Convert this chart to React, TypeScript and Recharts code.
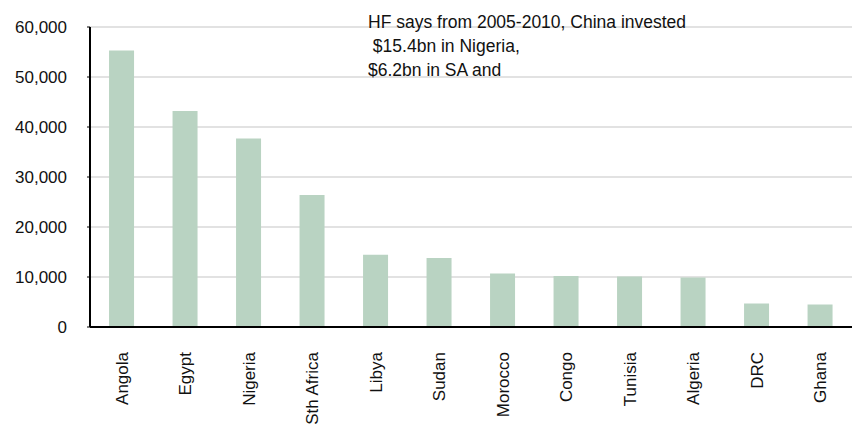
import React from "react";
import { BarChart, Bar, XAxis, YAxis, CartesianGrid } from "recharts";

const countries = ["Angola", "Egypt", "Nigeria", "Sth Africa", "Libya", "Sudan", "Morocco", "Congo", "Tunisia", "Algeria", "DRC", "Ghana"];
const investment = [55300, 43200, 37700, 26400, 14450, 13800, 10700, 10200, 10100, 9900, 4700, 4500];
const yTicks = [0, 10000, 20000, 30000, 40000, 50000, 60000];
const noteLines = ["HF says from 2005-2010, China invested", " $15.4bn in Nigeria,", "$6.2bn in SA and"];

const FONT = '"Liberation Sans", Arial, sans-serif';

const chartData = countries.map((c, i) => ({ name: c, v: investment[i] }));

function RotatedTick(props: any) {
  const { x, y, payload } = props;
  const ty = y + 23;
  return (
    <text
      x={x}
      y={ty}
      dy="0.36em"
      transform={`rotate(-90, ${x}, ${ty})`}
      textAnchor="end"
      fill="#111"
      fontSize={17}
      fontFamily={FONT}
    >
      {payload.value}
    </text>
  );
}

export default function App() {
  return (
    <div style={{ position: "absolute", left: 0, top: 0, width: 853, height: 428, background: "#fff", fontFamily: FONT }}>
      <BarChart
        width={853}
        height={428}
        data={chartData}
        margin={{ top: 27, right: 1, bottom: 0, left: 0 }}
        barCategoryGap="30%"
      >
        <CartesianGrid vertical={false} stroke="#d9d9d9" strokeWidth={1.5} />
        <XAxis
          dataKey="name"
          height={101}
          interval={0}
          tickLine={false}
          tickSize={0}
          axisLine={{ stroke: "#000", strokeWidth: 2 }}
          tick={<RotatedTick />}
        />
        <YAxis
          width={90}
          domain={[0, 60000]}
          ticks={yTicks}
          interval={0}
          tickSize={3}
          tickMargin={20}
          tickLine={{ stroke: "#000" }}
          axisLine={{ stroke: "#000", strokeWidth: 2 }}
          tickFormatter={(v: number) => v.toLocaleString("en-US")}
          tick={{ fill: "#111", fontSize: 17, fontFamily: FONT }}
        />
        <Bar dataKey="v" fill="#b9d3c2" isAnimationActive={false} />
      </BarChart>
      <div style={{ position: "absolute", left: 368, top: 10, fontSize: 17.5, lineHeight: "24px", color: "#111", whiteSpace: "pre" }}>
        {noteLines.map((l) => (
          <div key={l}>{l}</div>
        ))}
      </div>
    </div>
  );
}
